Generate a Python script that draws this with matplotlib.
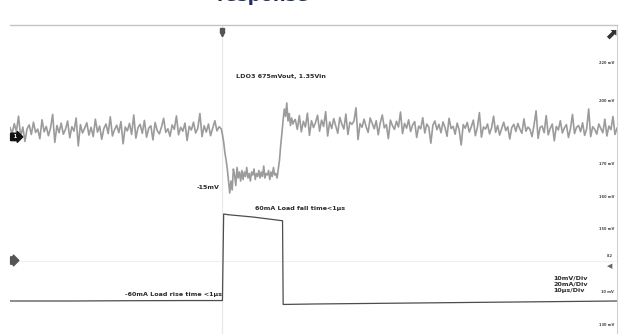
import numpy as np
import matplotlib
matplotlib.use("Agg")
import matplotlib.pyplot as plt
import matplotlib.transforms as mtransforms

# --- channel 1: LDO3 output ripple (mV, relative to 675 mV) ---
v_left = [
    0.8, -1.2, 2.1, -0.5, 4.6, -2.3, 1.0, -3.8, 0.4, 1.7,
    -1.5, 2.6, -0.8, 0.3, -2.9, 3.4, -0.6, 1.2, -1.9, 0.7,
    5.2, -4.1, 1.5, -0.9, 2.3, -1.4, 0.2, 3.0, -2.6, 1.1,
    -0.4, 4.0, -5.3, 1.8, -1.0, 0.6, 2.4, -1.7, 0.9, -2.2,
    3.6, -0.7, 1.3, -3.1, 0.5, 2.0, -1.2, 4.4, -2.0, 0.1,
    1.6, -0.9, 2.8, -4.6, 1.0, -0.3, 2.2, -1.5, 5.0, -2.7,
    0.8, 1.9, -1.1, 3.2, -2.4, 0.6, 1.4, -3.3, 2.5, -0.2,
    -1.3, 1.0, 3.9, -0.8, 0.4, -2.1, 1.7, 0.2, 4.7, -1.6,
    0.9, -0.4, 2.3, -3.5, 1.2, 0.0, 2.6, -1.0, 0.5, 5.5,
    -2.2, 1.4, -0.7, 2.0, -1.9, 0.6, 3.1, -0.3, 1.1, 0.4,
]
v_step = [
    -1.5, -4.0, -7.5, -10.0, -13.0, -17.0, -21.0, -17.0, -20.0, -13.0,
    -15.0, -18.5, -12.5, -16.0, -14.0, -17.0, -13.5, -16.5, -14.0, -15.5,
    -12.5, -16.0, -14.5, -17.0, -14.0, -15.0, -13.0, -16.5, -14.5, -15.5,
    -13.5, -16.0, -14.0, -15.5, -12.0, -16.0, -14.5, -15.0, -13.5, -16.5,
    -14.0, -15.5, -12.5, -15.0, -14.5, -16.0, -13.0, -10.0, -5.0, -1.0,
    3.5, 7.0, 4.5, 9.0, 3.0, 5.5, 1.5, 4.0, 2.0, 3.0,
]
v_right = [
    3.5, 0.2, 4.8, -0.6, 2.9, 1.0, 5.6, -1.8, 3.1, 0.8,
    2.5, 4.9, -0.4, 3.3, 1.2, 6.1, -2.0, 2.7, 0.5, 3.8,
    1.4, -1.1, 4.2, 2.0, 0.3, 5.3, -1.5, 2.6, 1.9, 3.0,
    7.4, -3.2, 2.1, 0.9, 3.6, 1.1, -0.8, 4.0, 2.2, 0.4,
    3.1, -1.6, 2.4, 5.0, 0.7, 1.8, -2.9, 3.3, 1.5, 0.2,
    2.9, 1.0, 6.0, -1.2, 2.2, 0.6, 3.4, -0.5, 1.7, 2.8,
    -2.5, 1.3, 0.4, 4.1, -1.0, 2.0, 0.9, -4.4, 1.6, 3.0,
    0.1, 1.9, -0.9, 2.7, 0.8, -2.1, 3.9, 0.5, 1.2, -1.4,
    2.3, 0.0, -5.0, 1.8, 0.6, 2.5, -0.7, 1.1, 3.3, -1.9,
    0.9, 5.8, -2.4, 1.0, 0.3, 2.0, -1.3, 0.7, 4.6, -0.8,
    1.5, -1.7, 0.4, 2.6, -0.2, 1.1, -3.0, 0.8, 1.9, -0.5,
    2.2, 0.3, -1.1, 3.7, -0.4, 1.0, 0.2, -2.2, 1.6, 6.4,
    -2.8, 0.9, 1.3, -0.9, 4.8, -1.6, 0.5, 2.0, -3.6, 1.2,
    0.0, 3.1, -1.0, 0.7, 1.8, -2.5, 0.4, 5.2, -1.2, 0.9,
    1.5, -0.6, 2.4, -1.8, 0.3, 7.0, -2.2, 1.1, 0.2, -1.4,
    2.0, 0.5, -0.9, 3.6, -2.0, 1.3, 0.1, 4.5, -1.5, 0.6,
]

# --- channel 2: load current (mA) ---
cur_t = [0, 10, 20, 30, 35.0, 35.2, 36, 40, 44.9, 45.0, 50, 60, 70, 80, 90, 100]
cur_ma = [0, 0, 0.2, 0.3, 0.3, 58, 57.5, 56, 53.5, -2.3, -2.0, -1.6, -1.2, -0.8, -0.4, 0]

right_labels = ["220 mV", "200 mV", "170 mV", "160 mV", "150 mV", "10 mV", "130 mV"]
scale_lines = ["10mV/Div", "20mA/Div", "10µs/Div"]

W, H = 622, 334
fig = plt.figure(figsize=(W / 100, H / 100), dpi=100)
fig.patch.set_facecolor("white")

ax = fig.add_axes([10 / W, 0, 607 / W, 309 / H])
ax.set_xlim(0, 100)
ax.set_ylim(-68, 35)
ax2 = ax.twinx()
ax2.set_ylim(-22, 184)

for a in (ax, ax2):
    a.set_xticks([])
    a.set_yticks([])
    for s in a.spines.values():
        s.set_visible(False)
ax.spines["top"].set_visible(True)
ax.spines["right"].set_visible(True)
ax.spines["top"].set_color("#c4c4c4")
ax.spines["right"].set_color("#d0d0d0")
ax.spines["top"].set_linewidth(1.0)
ax.spines["right"].set_linewidth(0.8)

# trigger position / faint reference lines
ax.axvline(35, color="#e9e9e9", lw=0.9, zorder=0)
ax.axhline(-43.5, color="#f0f0f0", lw=0.8, zorder=0)

t_left = np.linspace(0, 34.8, len(v_left))
t_step = np.linspace(35.0, 46.8, len(v_step))
t_right = np.linspace(47.0, 100, len(v_right))
t_v = np.concatenate([t_left, t_step, t_right])
v = np.concatenate([v_left, v_step, v_right])

ax.plot(t_v, v, color="#8a8a8a", lw=1.2, alpha=0.85, zorder=3)
ax2.plot(cur_t, cur_ma, color="#4d4d4d", lw=0.9, zorder=2)

# annotations
tf = dict(fontsize=4.6, color="#2a2a2a", fontweight="bold")
ax.text(37.3, 18, "LDO3 675mVout, 1.35Vin", va="center", ha="left", **tf)
ax.text(34.6, -19, "-15mV", va="center", ha="right", **tf)
ax2.text(40.3, 60, "60mA Load fall time<1µs", va="bottom", ha="left", **tf)
ax2.text(35.0, 2.5, "-60mA Load rise time <1µs", va="bottom", ha="right", **tf)
ax.text(89.5, -48.5, "\n".join(scale_lines), va="top", ha="left",
        linespacing=1.35, **tf)

# right-hand scale readouts
blend = mtransforms.blended_transform_factory(ax.transAxes, ax.transData)
label_y = [22.3, 9.7, -11.3, -22.3, -33.0, -54.0, -65.0]
for txt, yy in zip(right_labels, label_y):
    ax.text(0.995, yy, txt, transform=blend, ha="right", va="center",
            fontsize=2.6, color="#444444", fontweight="bold")

# channel markers
ax.text(0.003, -2.3, " 1 ", transform=blend, ha="left", va="center",
        fontsize=3.5, color="white", fontweight="bold",
        bbox=dict(boxstyle="rarrow,pad=0.25", fc="#111111", ec="#111111"))
ax.text(0.003, -43.5, "  ", transform=blend, ha="left", va="center",
        fontsize=3.5, color="white",
        bbox=dict(boxstyle="rarrow,pad=0.25", fc="#555555", ec="#555555"))
ax.text(0.993, -45.5, "\u25c0", transform=blend, ha="right", va="center",
        fontsize=5, color="#666666")
ax.text(0.993, -42.0, "8.2", transform=blend, ha="right", va="center",
        fontsize=2.4, color="#444444", fontweight="bold")

# trigger marker and top-right icon
blend_top = mtransforms.blended_transform_factory(ax.transData, ax.transAxes)
ax.plot([35], [0.985], marker="s", ms=2.5, color="#555555",
        transform=blend_top, clip_on=False)
ax.plot([35], [0.972], marker="v", ms=3.2, color="#555555",
        transform=blend_top, clip_on=False)
ax.text(0.999, 0.99, "\u2b08", transform=ax.transAxes, ha="right", va="top",
        fontsize=11, color="#333333", fontweight="bold")

# title, cut off by the top edge as in the source image
fig.text(263 / W, 1 - 0.9 / H, "response", ha="center", va="baseline",
         fontsize=13, fontweight="bold", color="#1c2e5c")

fig.savefig("out.png", dpi=100, facecolor="white")
